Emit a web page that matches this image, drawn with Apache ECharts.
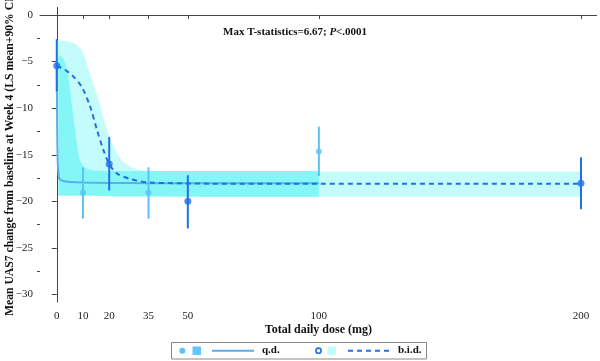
<!DOCTYPE html>
<html>
<head>
<meta charset="utf-8">
<script src="https://cdn.jsdelivr.net/npm/echarts@6/dist/echarts.min.js"></script>
<style>html,body{margin:0;padding:0;background:#fff}#c{width:600px;height:361px}</style>
</head>
<body>
<div id="c"></div>
<script>
// ---- data ----
var xTicks = [0, 10, 20, 35, 50, 100, 200];
var yTicks = [-30, -25, -20, -15, -10, -5, 0];
var yMinorTicks = [-27.5, -22.5, -17.5, -12.5, -7.5, -2.5];

// q.d. observed (dose, mean, low, high)
var qdDose = [10, 35, 100];
var qdMean = [-19.07, -19.07, -14.66];
var qdLow  = [-21.85, -21.85, -17.27];
var qdHigh = [-16.35, -16.35, -11.98];

// b.i.d. observed
var bidDose = [0, 20, 50, 200];
var bidMean = [-5.44, -16.0, -20.0, -18.06];
var bidLow  = [-8.2, -18.85, -22.9, -20.85];
var bidHigh = [-2.6, -13.1, -17.2, -15.27];

// q.d. model curve
var qdCurveX = [0, 0.1, 0.2, 0.4, 0.7, 1, 1.5, 2, 3, 5, 10, 20, 35, 50, 100];
var qdCurveY = [-5.5, -10, -13.5, -16, -17.2, -17.55, -17.7, -17.78, -17.85, -17.92, -17.98, -18.02, -18.05, -18.05, -18.05];

// b.i.d. model curve
var bidCurveX = [0, 3.2, 6.3, 9.5, 12.7, 15.3, 17.8, 20, 22.9, 28, 34.3, 44, 60, 100, 150, 200];
var bidCurveY = [-5.45, -5.9, -6.6, -7.7, -9.8, -12.3, -14.5, -16.0, -17.0, -17.6, -17.95, -18.05, -18.1, -18.1, -18.1, -18.1];

// q.d. 90% CI band
var qdBandX     = [0.6, 1.5, 2.5, 3.5, 4.4, 5, 5.7, 6.3, 7, 7.6, 8.2, 9, 10.2, 12, 14, 20, 35, 60, 100];
var qdBandUpper = [-4.3, -4.4, -4.65, -5.4, -6.6, -7.9, -9.5, -10.9, -12.3, -13.7, -14.8, -15.7, -16.3, -16.55, -16.7, -16.75, -16.75, -16.75, -16.75];
var qdBandLower = [-19.4, -19.4, -19.4, -19.4, -19.4, -19.4, -19.4, -19.4, -19.4, -19.4, -19.4, -19.4, -19.4, -19.4, -19.4, -19.45, -19.45, -19.5, -19.5];

// b.i.d. 90% CI band
var bidBandX     = [0, 3, 6.3, 8, 9.5, 11, 12.7, 14.3, 15.9, 17.5, 19.1, 21, 22.9, 25, 28, 31, 35.6, 50, 100, 150, 200];
var bidBandUpper = [-2.75, -2.8, -2.97, -3.3, -3.75, -4.8, -6.3, -7.7, -9.1, -10.7, -12.3, -13.7, -14.8, -15.7, -16.3, -16.6, -16.8, -16.8, -16.8, -16.8, -16.8];
var bidBandLower = [-8.3, -17.5, -18.3, -18.6, -18.8, -19.0, -19.1, -19.2, -19.3, -19.35, -19.4, -19.45, -19.5, -19.5, -19.5, -19.5, -19.5, -19.5, -19.5, -19.5, -19.5];

// ---- helpers ----
function zip(a, b) { return a.map(function (v, i) { return [v, b[i]]; }); }
function bandRows(x, lo, hi) { return x.map(function (v, i) { return [v, lo[i], hi[i]]; }); }
function errRows(x, lo, hi) { return x.map(function (v, i) { return [v, lo[i], hi[i]]; }); }
function minusFmt(v) { return String(v).replace('-', '\u2212'); }

var C_QD_BAND = '#84f6f6';
var C_BID_BAND = '#c4fbfb';
var C_QD = '#5ec2f6';
var C_QD_LINE = '#5aaeec';
var C_BID = '#2070e6';
var FONT = '"Liberation Serif", "Times New Roman", serif';

function bandSeries(rows, color) {
  return {
    type: 'custom',
    data: rows,
    encode: { x: 0, y: [1, 2] },
    silent: true,
    z: 1,
    renderItem: function (params, api) {
      if (params.dataIndex !== 0) return null;
      var pts = [];
      for (var i = 0; i < rows.length; i++) pts.push(api.coord([rows[i][0], rows[i][2]]));
      for (var j = rows.length - 1; j >= 0; j--) pts.push(api.coord([rows[j][0], rows[j][1]]));
      return { type: 'polygon', shape: { points: pts }, style: { fill: color, stroke: null } };
    }
  };
}

function errSeries(rows, color) {
  return {
    type: 'custom',
    data: rows,
    encode: { x: 0, y: [1, 2] },
    silent: true,
    z: 4,
    renderItem: function (params, api) {
      var a = api.coord([api.value(0), api.value(1)]);
      var b = api.coord([api.value(0), api.value(2)]);
      return { type: 'line', shape: { x1: a[0], y1: a[1], x2: b[0], y2: b[1] }, style: { stroke: color, lineWidth: 2 } };
    }
  };
}

var chart = echarts.init(document.getElementById('c'), null, { renderer: 'canvas' });
var axisColor = '#444';
chart.setOption({
  animation: false,
  backgroundColor: '#fff',
  textStyle: { fontFamily: FONT },
  grid: { left: 40, right: 3.3, top: 7.5, bottom: 59, containLabel: false, outerBoundsMode: 'none' },
  xAxis: {
    type: 'value', min: -6.4, max: 206,
    name: 'Total daily dose (mg)', nameLocation: 'middle', nameGap: 22, nameMoveOverlap: false,
    nameTextStyle: { fontFamily: FONT, fontWeight: 'bold', fontSize: 12, color: '#111' },
    axisLine: { show: true, lineStyle: { color: axisColor, width: 1 } },
    axisTick: { show: true, length: 4, customValues: xTicks, lineStyle: { color: axisColor } },
    axisLabel: { customValues: xTicks, fontFamily: FONT, fontSize: 11, color: '#222', margin: 8.5 },
    splitLine: { show: false }
  },
  yAxis: [{
    type: 'value', min: -30.8, max: 0.8,
    name: 'Mean UAS7 change from baseline at Week 4 (LS mean+90% CI)',
    nameLocation: 'middle', nameGap: 24, nameRotate: 90, nameMoveOverlap: false,
    nameTextStyle: { fontFamily: FONT, fontWeight: 'bold', fontSize: 11.7, color: '#111' },
    axisLine: { show: true, lineStyle: { color: axisColor, width: 1 } },
    axisTick: { show: true, length: 5, customValues: yTicks, lineStyle: { color: axisColor } },
    axisLabel: { customValues: yTicks, formatter: minusFmt, fontFamily: FONT, fontSize: 11, color: '#222', margin: 7 },
    splitLine: { show: false }
  }, {
    type: 'value', min: -30.8, max: 0.8, position: 'left',
    axisLine: { show: false },
    axisTick: { show: true, length: 3, customValues: yMinorTicks, lineStyle: { color: axisColor } },
    axisLabel: { show: false, customValues: yMinorTicks },
    splitLine: { show: false }
  }],
  series: [
    bandSeries(bandRows(bidBandX, bidBandLower, bidBandUpper), C_BID_BAND),
    bandSeries(bandRows(qdBandX, qdBandLower, qdBandUpper), C_QD_BAND),
    {
      type: 'line', data: zip(qdCurveX, qdCurveY), smooth: 0.3, showSymbol: false, symbol: 'none',
      lineStyle: { color: C_QD_LINE, width: 2 }, z: 3, silent: true
    },
    {
      type: 'line', data: zip(bidCurveX, bidCurveY), smooth: 0.3, showSymbol: false, symbol: 'none',
      lineStyle: { color: C_BID, width: 2, type: [5, 4] }, z: 3, silent: true
    },
    errSeries(errRows(qdDose, qdLow, qdHigh), C_QD),
    errSeries(errRows(bidDose, bidLow, bidHigh), C_BID),
    {
      type: 'scatter', data: zip(qdDose, qdMean), symbol: 'circle', symbolSize: 6,
      itemStyle: { color: C_QD }, z: 5, silent: true
    },
    {
      type: 'scatter', data: zip(bidDose, bidMean), symbol: 'circle', symbolSize: 7,
      itemStyle: { color: C_BID }, z: 5, silent: true
    }
  ],
  graphic: [
    {
      type: 'text', left: 223, top: 27, z: 10,
      style: {
        text: '{b|Max T-statistics=6.67; }{i|P}{b|<.0001}',
        rich: {
          b: { fontFamily: FONT, fontWeight: 'bold', fontSize: 11, fill: '#111' },
          i: { fontFamily: FONT, fontWeight: 'bold', fontStyle: 'italic', fontSize: 11, fill: '#111' }
        }
      }
    },
    { type: 'rect', shape: { x: 171.5, y: 342.5, width: 255, height: 16.5 }, style: { fill: '#fff', stroke: '#888', lineWidth: 1 }, z: 10 },
    { type: 'circle', shape: { cx: 182.3, cy: 350.7, r: 3 }, style: { fill: C_QD }, z: 11 },
    { type: 'rect', shape: { x: 192.5, y: 346.5, width: 8.5, height: 8.5 }, style: { fill: '#66c6f6' }, z: 11 },
    { type: 'line', shape: { x1: 212, y1: 350.7, x2: 254, y2: 350.7 }, style: { stroke: C_QD_LINE, lineWidth: 2 }, z: 11 },
    { type: 'text', left: 262, top: 344.5, z: 11, style: { text: 'q.d.', fontFamily: FONT, fontWeight: 'bold', fontSize: 11, fill: '#111' } },
    { type: 'circle', shape: { cx: 318.5, cy: 350.7, r: 2.6 }, style: { fill: '#fff', stroke: C_BID, lineWidth: 1.6 }, z: 11 },
    { type: 'rect', shape: { x: 327.5, y: 346.5, width: 8.5, height: 8.5 }, style: { fill: C_BID_BAND }, z: 11 },
    { type: 'line', shape: { x1: 348, y1: 350.7, x2: 389, y2: 350.7 }, style: { stroke: C_BID, lineWidth: 2, lineDash: [5, 4] }, z: 11 },
    { type: 'text', left: 398, top: 344.5, z: 11, style: { text: 'b.i.d.', fontFamily: FONT, fontWeight: 'bold', fontSize: 11, fill: '#111' } }
  ]
});
</script>
</body>
</html>
